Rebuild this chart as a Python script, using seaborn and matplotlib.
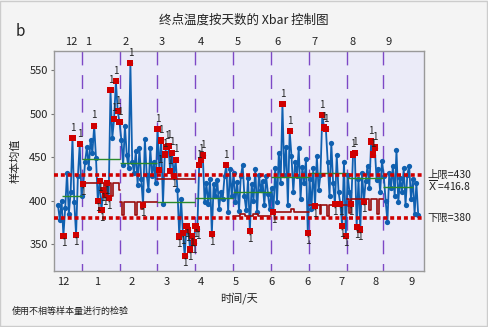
import numpy as np
import pandas as pd
import matplotlib
matplotlib.use("Agg")
import matplotlib.pyplot as plt
import seaborn as sns
from matplotlib.patches import Rectangle

# ---- data ---------------------------------------------------------------
sample_means = [
    395, 378, 400, 360, 392, 432, 385, 410, 472, 398,
    361, 428, 465, 405, 419, 445, 462, 438, 470, 455,
    486, 449, 400, 423, 389, 412, 407, 420, 403, 527,
    472, 494, 537, 503, 490, 470, 441, 486, 452, 437,
    558, 445, 432, 457, 418, 460, 425, 395, 471, 430,
    412, 460, 428, 445, 420, 482, 435, 469, 396, 453,
    462, 463, 434, 455, 428, 447, 412, 359, 402, 363,
    337, 371, 366, 344, 360, 352, 371, 368, 441, 447,
    452, 398, 420, 396, 425, 362, 419, 405, 424, 391,
    410, 402, 428, 441, 387, 436, 405, 432, 398, 422,
    388, 428, 441, 405, 389, 426, 365, 419, 400, 436,
    387, 430, 412, 423, 395, 428, 408, 390, 415, 387,
    438, 398, 455, 420, 511, 430, 462, 395, 480, 451,
    410, 445, 428, 460, 402, 439, 420, 448, 363, 425,
    390, 437, 394, 451, 412, 430, 498, 484, 482, 445,
    405, 466, 420, 396, 452, 410, 396, 371, 445, 360,
    430, 410, 396, 453, 455, 370, 425, 367, 432, 399,
    423, 440, 415, 468, 453, 461, 424, 436, 410, 446,
    428, 400, 376, 432, 415, 440, 405, 458, 398, 426,
    410, 437, 395, 430, 440, 402, 425, 385, 420, 384,
]

# samples failing test 1
flagged = [4, 9, 11, 13, 15, 21, 23, 24, 25, 26, 27, 28, 29, 30, 32, 33, 34, 35,
           41, 48, 56, 57, 58, 60, 61, 62, 63, 64, 65, 66, 68, 70, 71, 72, 73,
           74, 75, 76, 77, 78, 79, 80, 81, 86, 94, 107, 120, 125, 129, 139, 143,
           147, 148, 149, 154, 157, 158, 160, 163, 164, 165, 166, 168, 170, 174,
           175, 176]

ucl, center, lcl = 430, 416.8, 380

# day boundaries (between samples) and per-day centre lines
day_breaks = [14.5, 35.5, 55.5, 76.5, 97.5, 118.5, 139.5, 160.5, 180.5]
stage_start = [3, 14.5, 35.5, 55.5, 76.5, 97.5, 118.5, 139.5, 160.5, 180.5]
stage_end = [14.5, 35.5, 55.5, 76.5, 97.5, 118.5, 139.5, 160.5, 180.5, 197]
stage_mean = [406, 447.5, 443, 398, 403, 410, 427.5, 431.5, 426, 415.5]

# variable lower limits (unequal sample sizes), step form
nan = np.nan
lim_x = [14.5, 26.5, 27.5, 30.5, 31.5, 34.5, 35.5, 35.5,
         35.5, 36.5, 37.5, 43.5, 44.5, 47.0, 48.0, 55.5, 55.5,
         55.5, 76.5, 76.5,
         97.5, 101.5, 104.5, 108.5, 111.5, 118.5, 118.5,
         118.5, 129.5, 131.5, 139.5, 139.5,
         139.5, 145.5, 146.5, 149.5, 150.5, 160.5, 160.5,
         160.5, 162.0, 163.0, 173.0, 174.0, 177.5, 178.5, 180.5, 180.5]
lim_y = [420, 405, 420, 405, 420, 412, 412, nan,
         398, 384, 398, 384, 398, 390, 398, 398, nan,
         425, 425, nan,
         382, 385, 382, 385, 382, 382, nan,
         387, 390, 387, 387, nan,
         395, 385, 395, 382, 395, 395, nan,
         402, 386, 402, 389, 402, 385, 402, 402, nan]

top_pos = [8.2, 17.6, 38.6, 58.5, 80, 100.4, 122, 143, 164, 183.9]
top_labels = ["12", "1", "2", "3", "4", "5", "6", "7", "8", "9"]
bottom_pos = [3.8, 22.5, 41.9, 61.2, 80, 99.3, 119.2, 138.6, 157.9, 176.7, 196.6]
bottom_labels = ["12", "1", "2", "3", "4", "5", "6", "6", "7", "8", "9"]

# ---- styling --------------------------------------------------------------
sns.set_theme(style="white")
plt.rcParams["font.family"] = ["Noto Sans CJK SC", "DejaVu Sans"]
plt.rcParams["axes.unicode_minus"] = False

BLUE = "#1060b0"
RED = "#d00000"
DARKRED = "#9a0c0c"
GREEN = "#2a8a2a"
PURPLE = "#7d48c6"
TXT = "#222222"

df = pd.DataFrame({"样本": np.arange(1, len(sample_means) + 1),
                   "均值": sample_means})
df["异常"] = df["样本"].isin(flagged)

fig = plt.figure(figsize=(4.88, 3.27), dpi=100, facecolor="#f4f4f4")
ax = fig.add_axes([54 / 488, 56 / 327, 370 / 488, 220 / 327])
ax.set_facecolor("#ebebf8")

# day separators
for b in day_breaks:
    ax.plot([b, b], [1, 0], transform=ax.get_xaxis_transform(),
            color=PURPLE, lw=1.0, dashes=(10, 7), zorder=1)

# series
sns.lineplot(data=df, x="样本", y="均值", ax=ax, color=BLUE, lw=1.3,
             marker="o", markersize=3.8, markeredgewidth=0, zorder=2,
             estimator=None, sort=False)

# per-day centre lines and variable limits
ax.hlines(stage_mean, stage_start, stage_end, color=GREEN, lw=1.0, zorder=2.5)
ax.step(lim_x, lim_y, where="post", color=DARKRED, lw=1.2, zorder=2.5)

# overall limits
for v in (ucl, lcl):
    ax.axhline(v, color=RED, lw=2.6, dashes=(1.1, 0.8), zorder=4)

# flagged points
bad = df[df["异常"]]
sns.scatterplot(data=bad, x="样本", y="均值", ax=ax, marker="s", s=20,
                color=RED, edgecolor="none", zorder=5, legend=False)
for _, r in bad.iterrows():
    above = r["均值"] > ucl
    ax.annotate("1", (r["样本"], r["均值"]),
                xytext=(0, 7.5 if above else -5.5), textcoords="offset points",
                ha="center", va="center", fontsize=7, color=TXT, zorder=6)

ax.set_xlim(-1.2, 203.2)
ax.set_ylim(319.4, 571.8)
ax.set_yticks([350, 400, 450, 500, 550])
ax.set_xticks(bottom_pos)
ax.set_xticklabels(bottom_labels)
ax.tick_params(axis="y", length=2.5, width=0.8, color="#777777", labelsize=8,
               labelcolor=TXT, pad=2, left=True)
ax.tick_params(axis="x", length=0, labelsize=8, labelcolor=TXT, pad=4)
for s in ax.spines.values():
    s.set_color("#999999")
    s.set_linewidth(1.0)

ax.set_xlabel("时间/天", fontsize=8, color=TXT, labelpad=4)
ax.set_ylabel("样本均值", fontsize=8, color=TXT, labelpad=6)

top = ax.twiny()
top.set_xlim(ax.get_xlim())
top.set_xticks(top_pos)
top.set_xticklabels(top_labels)
top.tick_params(axis="x", length=0, labelsize=8, labelcolor=TXT, pad=3)
for s in top.spines.values():
    s.set_visible(False)

# limit labels on the right
tr = ax.get_yaxis_transform()
ax.text(1.01, ucl, "上限=430", transform=tr, fontsize=7.5, va="center",
        ha="left", color=TXT)
ax.text(1.01, center, r"$\overline{\mathrm{X}}$ =416.8", transform=tr,
        fontsize=7.5, va="center", ha="left", color=TXT)
ax.text(1.01, lcl, "下限=380", transform=tr, fontsize=7.5, va="center",
        ha="left", color=TXT)

fig.text(0.5, 1 - 20 / 327, "终点温度按天数的 Xbar 控制图", ha="center",
         va="center", fontsize=9, color=TXT)
fig.text(16 / 488, 1 - 31 / 327, "b", ha="left", va="center", fontsize=11,
         color=TXT)
fig.text(12 / 488, 1 - 311 / 327, "使用不相等样本量进行的检验", ha="left",
         va="center", fontsize=6.5, color=TXT)

fig.patches.append(Rectangle((0.001, 0.002), 0.997, 0.995, transform=fig.transFigure,
                             fill=False, edgecolor="#cccccc", lw=1.0))

fig.savefig("out.png", dpi=100, facecolor=fig.get_facecolor())
